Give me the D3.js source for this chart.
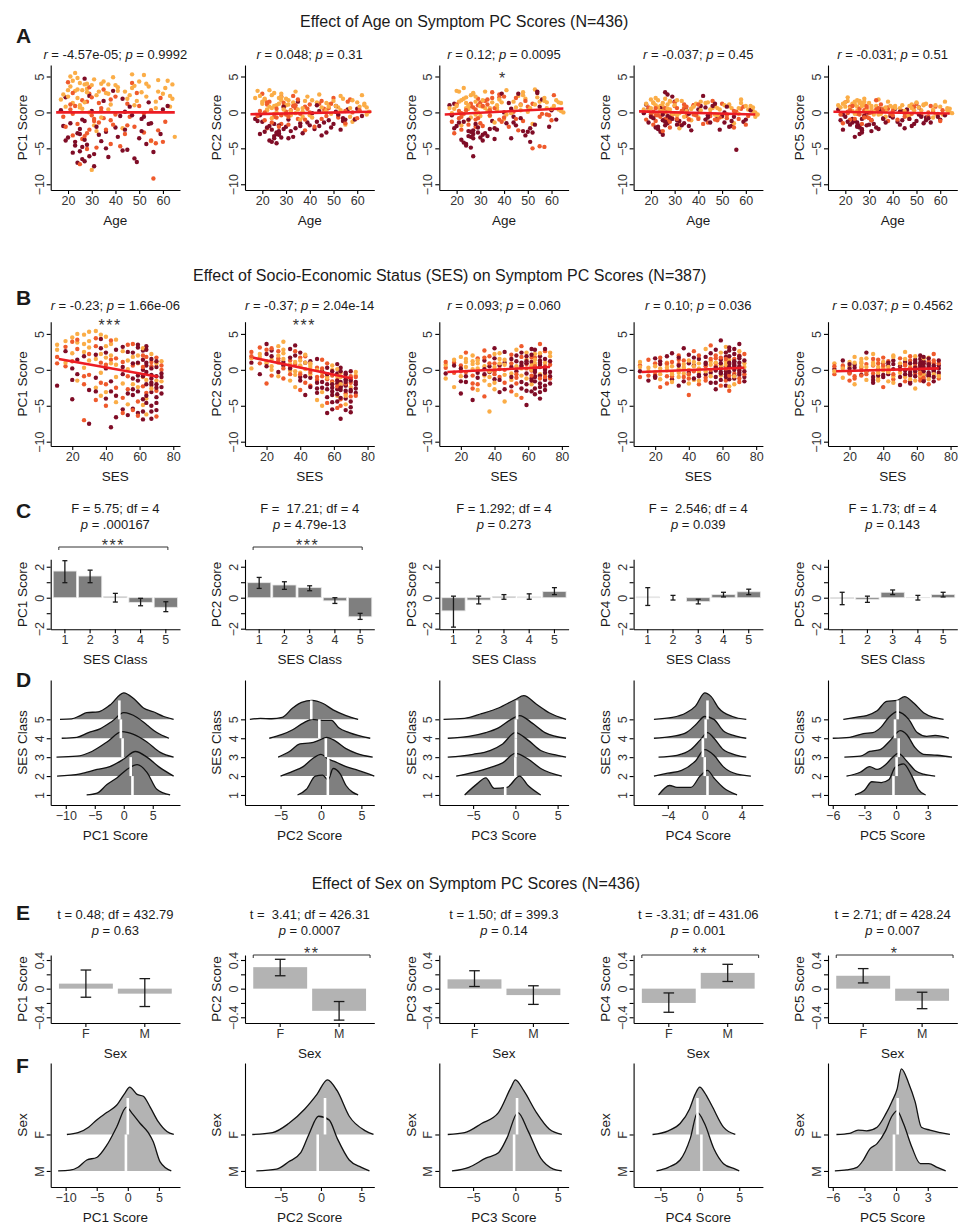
<!DOCTYPE html>
<html>
<head>
<meta charset="utf-8">
<script src="https://cdn.jsdelivr.net/npm/d3@7"></script>
<style>
  body { margin: 0; background: #fff; }
</style>
</head>
<body>
<script>
// ! Data
const pcNames = ["PC1", "PC2", "PC3", "PC4", "PC5"];

// Row A: [age, colour group, PC1, PC2, PC3, PC4, PC5]
const ageRows = [
  [19,0,2.1,-0.4,1.2,0.5,-0.3],[22,1,-3.2,1.1,-0.6,-1.2,0.8],[24,2,4.8,0.6,2.1,0.9,1.1],[26,0,-6.5,-2.8,-3.4,-1.8,-2.1],
  [27,0,-1.2,-3.1,-2.5,0.2,-0.9],[28,1,1.5,2.2,0.4,-0.6,0.3],[21,2,3.6,1.8,1.5,1.3,1.6],[23,0,-4.1,-1.9,-4.2,-2.3,-1.4],
  [25,2,0.7,-0.2,-1.1,0.8,0.2],[29,1,-2.4,0.9,1.9,-0.1,-0.6],[31,0,-5.8,-3.6,-3.1,-1.1,-2.6],[33,2,2.9,1.4,0.2,1.6,0.9],
  [35,1,-0.8,-0.9,2.8,-0.5,0.4],[18,0,-1.9,-1.2,-0.4,1.1,-1.1],[20,1,4.2,2.6,1.1,-0.3,1.4],[22,2,1.3,0.4,-1.8,2.0,0.6],
  [24,0,-7.0,-2.4,-4.6,-2.7,-3.4],[26,1,-3.7,-0.7,0.9,-0.9,-0.3],[28,2,3.3,1.7,-0.3,0.4,1.0],[30,0,0.2,-2.0,-3.5,1.5,-1.7],
  [32,1,-4.9,0.3,1.6,-1.6,0.1],[34,2,4.0,2.9,0.6,0.7,1.8],[36,0,-2.7,-1.5,-2.2,-0.2,-0.8],[38,1,1.8,0.8,2.5,1.0,0.5],
  [40,2,3.8,-0.4,-0.9,-0.7,0.7],[42,0,-0.5,-2.3,1.3,2.3,-1.3],[44,1,-3.0,1.2,0.1,-1.4,0.2],[46,2,2.4,0.1,2.3,0.6,-0.5],
  [48,0,-6.4,-1.1,-2.6,-0.8,-1.9],[50,1,0.9,2.0,0.8,1.2,1.2],[52,2,5.2,0.7,-1.6,-0.4,0.3],[54,0,-1.6,-0.8,2.7,-1.9,-0.7],
  [56,1,-9.2,1.5,-0.2,0.1,0.9],[58,2,4.5,-1.3,1.4,1.8,-0.2],[60,0,0.4,0.5,0.3,-1.0,-1.0],[62,2,4.4,2.4,1.7,0.9,1.5],
  [64,2,1.9,-0.3,0.2,-0.6,0.0],[17,0,0.3,-0.9,1.0,-0.1,0.4],[19,1,-2.0,0.2,-2.9,0.7,-1.5],[21,2,5.0,1.9,2.9,1.4,2.1],
  [23,0,-4.6,-3.9,-1.3,-2.0,-0.9],[25,2,1.0,0.9,0.5,0.3,0.8],[27,0,-6.8,-2.6,-6.1,-1.5,-2.8],[29,1,2.6,1.3,1.0,-0.8,0.6],
  [24,0,-2.9,-4.1,-4.4,0.6,-1.2],[26,2,3.1,0.0,-0.7,1.9,1.3],[28,1,-5.1,-1.6,-2.0,-1.3,-0.4],[30,2,-8.0,1.0,-0.5,-0.2,0.1],
  [27,0,4.7,-1.8,-3.0,2.5,-2.3],[33,1,-1.4,2.3,1.8,0.2,1.7],[37,2,3.9,-0.6,0.7,-1.1,-0.6],[41,0,-3.4,-0.1,-1.5,0.9,0.5],
  [45,1,1.2,1.6,2.0,-0.5,-0.1],[49,0,-6.9,-2.1,-3.2,-2.4,-1.6],[53,2,2.2,0.3,3.2,1.1,1.0],[57,1,-4.3,1.8,-4.8,-0.9,0.2],
  [61,2,3.4,0.8,0.9,0.4,-0.3],[22,1,-0.2,-2.2,-2.4,-0.4,-1.0],[25,0,-5.4,-3.3,-1.0,-3.1,-2.0],[28,2,2.8,2.1,2.2,1.5,1.9],
  [31,0,-7.5,-1.0,-3.9,-1.7,-1.1],[34,1,0.6,0.6,0.3,0.5,0.3],[39,0,3.0,-1.4,2.6,-0.3,-0.5],[43,2,-2.2,1.4,-0.1,1.3,0.6],
  [47,1,4.1,-0.5,1.1,-1.0,-0.9],[51,0,-0.9,0.9,-2.2,0.0,0.7],[55,2,-4.0,-1.7,1.5,-1.5,-0.8],[59,1,2.0,-0.9,-0.4,0.8,-0.2],
  [20,0,-3.5,-1.3,-1.9,-0.6,-0.6],[23,2,5.5,3.1,3.4,1.7,1.2],[26,0,-1.0,-3.0,-2.7,2.8,-1.8],[29,1,3.5,0.7,-0.8,-0.2,0.9],
  [32,2,-2.6,-0.4,0.6,-2.2,-0.3],[35,0,1.6,1.5,-1.2,0.3,0.4],[38,1,-4.4,-2.5,2.1,1.0,-1.2],[44,0,0.1,0.2,-0.6,-0.7,0.1],
  [48,2,3.7,1.1,2.4,0.6,1.1],[52,1,-2.8,-0.7,-5.0,-0.3,-0.4],[56,0,-5.5,0.4,1.8,-5.2,-1.4],[63,2,0.8,1.2,0.4,0.2,0.6],
  [21,1,1.1,-1.1,0.2,-1.7,0.1],[24,2,3.2,2.4,1.3,0.1,1.5],[27,0,-3.8,-2.9,-3.6,-0.5,-2.5],[30,1,-0.4,0.1,1.4,1.4,-0.1],
  [36,2,2.7,-1.0,-1.4,-0.9,0.5],[40,0,-2.1,-1.8,0.0,0.4,-0.7],[46,1,-0.6,0.5,-2.5,1.6,0.3],[50,2,4.3,1.6,0.1,-0.6,1.4],
  [54,0,1.4,-1.2,2.9,-1.2,-1.1],[58,1,-2.5,0.0,-0.3,0.5,0.8],[18,2,2.5,3.0,-0.1,1.2,0.7],[25,1,-7.2,-0.6,-1.7,-2.6,-0.2],
  [26,2,0.5,1.0,2.4,0.0,1.6],[27,1,-3.3,-2.0,0.7,-1.0,-1.6],[29,0,2.3,0.8,-2.1,2.2,0.0],[31,2,-1.8,1.7,1.7,-0.4,0.9],
  [45,0,-5.2,-3.2,-1.8,-1.4,-2.2],[47,2,5.3,0.3,1.0,0.9,-0.4],[55,1,-3.9,-1.5,-4.7,-2.1,-0.6],[65,2,-3.4,0.1,0.0,-0.3,-0.1],
  [20,2,3.1,1.2,0.9,0.6,0.8],[21,0,-1.5,-2.7,-1.4,-0.8,-1.3],[22,2,4.4,0.3,1.7,1.0,0.4],[23,1,0.9,1.5,-0.2,-0.4,0.9],
  [24,2,2.0,-0.8,0.6,0.2,-0.2],[25,0,-2.3,-1.6,-3.3,-1.1,-1.9],[26,1,1.7,0.5,1.2,0.6,0.5],[27,2,3.9,2.0,2.6,1.1,1.3],
  [28,0,-4.5,-3.5,-1.6,-0.7,-0.5],[29,2,0.0,0.4,0.0,-0.2,0.2],[30,1,2.1,-0.3,-1.5,0.9,-0.8],[31,2,4.6,1.1,0.8,1.7,0.6],
  [32,0,-2.0,-2.6,-2.9,-1.2,-1.6],[33,1,1.3,0.9,1.1,0.1,0.4],[34,2,-0.7,-0.1,-0.5,-0.6,-0.3],[35,1,3.2,1.8,2.0,0.8,1.1],
  [36,0,-5.0,-1.9,-3.7,-1.9,-0.9],[37,2,2.6,0.6,0.4,0.5,0.2],[38,1,-1.1,-1.0,-1.0,-0.3,0.7],[39,2,4.9,2.2,1.4,1.2,0.9],
  [40,1,-0.3,0.0,2.2,-0.9,-0.4],[41,2,3.0,-0.7,-0.3,0.3,0.6],[42,1,-4.7,-2.0,-2.0,-1.6,-1.0],[43,0,1.9,1.0,0.5,0.7,0.1],
  [44,2,2.9,2.5,1.5,1.4,1.0],[45,1,-1.8,-0.9,-0.9,-0.1,-0.6],[46,0,0.8,-1.4,2.6,0.9,0.4],[47,2,3.4,1.3,0.3,-0.3,0.9],
  [48,1,-2.0,0.6,-1.2,-1.1,-0.2],[49,2,1.6,-0.2,1.9,0.4,0.3],[50,0,-3.6,-1.6,-2.7,-0.5,-1.2],[51,2,2.8,0.9,0.6,1.0,0.7],
  [52,1,-0.1,-0.4,1.2,-0.8,-0.5],[53,0,-4.4,-2.4,-1.7,-2.0,-1.5],[54,2,3.6,1.9,2.1,0.6,1.2],[55,1,0.3,0.2,-0.6,0.2,0.0],
  [57,2,1.5,-0.6,1.6,-0.2,-0.7],[59,0,-3.0,-1.0,-2.0,-1.3,-0.6],[60,2,2.6,1.4,0.5,0.9,0.8],[61,1,-1.3,0.3,2.4,-0.5,0.3],
  [62,0,0.9,-0.5,-1.0,0.3,-0.4],[64,2,3.9,0.7,1.3,0.0,0.5],[17,2,1.8,2.0,0.6,0.4,1.0],[18,1,-0.6,-0.5,-1.3,-1.0,-0.3],
  [19,0,-3.9,-3.0,-2.2,-1.4,-2.4],[20,2,2.2,1.5,3.0,1.8,1.4],[21,1,0.4,0.0,-0.8,0.1,-0.1],[22,0,-5.6,-2.1,-3.8,-2.1,-1.7],
  [23,2,3.0,0.8,1.9,0.7,0.2],[24,1,-1.6,-1.4,0.3,-0.6,-0.9],[25,2,4.1,2.7,1.0,1.3,1.7],[26,0,-4.8,-4.3,-4.9,-1.3,-3.0],
  [27,2,1.4,1.2,2.7,0.5,0.9],[28,1,-2.9,-0.4,-1.0,-2.1,-0.7],[29,0,-6.1,-2.3,-2.8,-0.9,-1.8],[30,2,3.8,1.9,0.9,1.0,1.3],
  [31,1,-0.9,-1.7,-1.9,0.6,-1.1],[32,2,2.4,0.2,2.9,-0.1,0.1],[33,0,-3.1,-3.4,-3.3,-1.8,-2.1],[34,1,0.2,1.0,-0.4,1.1,0.6],
  [35,2,4.3,0.4,1.4,0.2,-0.2],[36,1,-2.4,-0.2,0.6,-1.0,0.4],[37,0,-6.2,-2.9,-2.4,-2.5,-1.4],[38,2,1.1,1.6,1.8,0.8,1.5],
  [39,1,-1.7,0.5,-1.3,-0.4,-0.2],[41,2,3.5,1.7,3.1,1.5,0.9],[43,0,-5.3,-1.3,-3.6,-1.0,-1.7],[45,2,1.9,0.7,0.7,0.4,0.2],
  [47,0,-0.4,-2.8,-0.8,1.2,-0.9],[49,1,2.7,1.2,1.6,-0.7,0.8],[51,0,-2.6,0.1,-4.1,-1.4,-0.3],[53,2,4.0,2.3,1.1,0.9,1.1],
  [55,0,-1.5,-1.0,0.8,-0.6,-0.8],[57,2,0.6,0.6,2.0,0.6,0.4],[60,1,-4.1,-0.8,-1.1,-1.7,-1.2],[63,2,2.3,1.0,1.4,0.7,0.3],
  [19,2,0.8,2.3,0.5,0.2,1.2],[22,1,2.7,1.4,-0.1,0.6,0.3],[25,0,-3.0,-3.6,-2.6,-0.3,-1.4],[28,2,4.0,2.6,1.5,1.6,1.5],
  [31,1,-1.2,-0.6,0.9,-0.9,0.0],[34,0,-4.0,-2.2,-2.3,-1.5,-2.3],[37,2,0.4,0.1,1.0,0.5,0.7],[40,1,2.2,1.1,-0.7,1.1,0.2],
  [44,0,-2.4,-1.9,-1.4,-0.4,-1.1],[48,2,1.0,0.8,2.8,-0.4,0.6],[52,0,-0.6,-0.3,-2.8,0.8,-0.6],[58,2,2.9,1.7,0.6,1.3,1.0]
];
// regression line end points [x1, y1, x2, y2]
const ageFits = [[15,0.0,65,0.0],[15,-0.25,66,0.1],[15,-0.3,65,0.55],[15,0.15,64,-0.3],[15,0.1,64,-0.15]];
const ageStats = ["_r_ = -4.57e-05; _p_ = 0.9992", "_r_ = 0.048; _p_ = 0.31", "_r_ = 0.12; _p_ = 0.0095",
  "_r_ = -0.037; _p_ = 0.45", "_r_ = -0.031; _p_ = 0.51"];
const ageStars = ["", "", "*", "", ""];

// Row B: [SES, colour group, PC1, PC2, PC3, PC4, PC5]
const sesRows = [
  [11,0,-2.2,1.0,-0.5,-0.2,0.1],[11,1,1.8,2.5,0.3,0.6,-0.6],[11,2,3.5,0.2,-1.2,1.1,0.9],[16,1,0.5,3.1,1.0,-0.8,0.4],
  [16,2,4.0,1.8,-2.4,0.3,-1.1],[16,0,2.6,-0.6,0.6,-1.5,1.3],[20,0,-4.1,2.2,-1.6,1.6,-0.4],[20,2,4.5,0.9,1.8,-0.3,0.5],
  [20,1,1.2,-1.9,-0.2,0.9,-1.5],[20,0,-1.4,3.6,-3.3,-1.1,0.2],[23,2,5.0,1.4,0.4,0.2,1.8],[23,1,2.9,-0.8,2.4,-2.4,-0.9],
  [23,0,-0.6,2.7,-0.9,1.2,0.7],[23,2,3.8,0.0,1.1,-0.6,-2.0],[27,1,-7.0,1.6,-1.9,-1.9,0.3],[27,2,4.9,3.3,0.8,0.7,1.1],
  [27,0,1.9,-0.3,-4.2,1.9,-0.7],[27,2,0.3,2.0,2.0,-0.1,1.5],[30,0,-7.5,0.6,-0.4,-1.3,-0.2],[30,2,5.3,2.3,-2.8,0.5,-1.4],
  [30,1,2.2,-1.2,1.6,-0.9,0.8],[30,0,-2.8,1.1,-1.1,2.3,2.4],[30,2,3.1,3.9,0.2,-0.4,-0.3],[34,1,4.4,0.4,-3.7,1.4,0.6],
  [34,0,-1.1,2.9,1.3,-2.2,-1.8],[34,2,5.4,-1.5,-0.8,0.1,1.0],[34,1,-4.2,1.3,2.7,0.8,-0.5],[34,2,1.5,-0.1,-1.5,-1.0,2.2],
  [37,0,3.0,2.0,0.5,3.0,0.0],[37,2,-0.4,-2.4,-2.1,-0.5,-1.2],[37,1,1.0,0.8,1.9,1.3,1.4],[37,0,4.3,3.4,-0.3,-1.6,-0.8],
  [37,2,-3.6,-0.7,-5.8,0.4,0.4],[40,1,-5.0,1.7,0.9,-1.2,-2.4],[40,0,2.4,-1.0,-1.3,2.1,0.9],[40,2,4.6,0.5,2.2,0.0,-0.1],
  [40,1,-2.0,-2.8,-0.6,-3.5,1.7],[40,0,0.2,2.4,3.0,0.9,-1.0],[40,2,-3.1,-0.4,-2.7,-0.7,0.3],[43,0,-8.0,1.0,0.6,1.7,-0.6],
  [43,1,1.4,-1.8,-1.0,-0.2,1.2],[43,2,3.6,0.1,1.5,-1.4,-1.6],[43,0,-1.6,-3.5,-3.1,0.6,0.6],[43,1,4.1,1.9,0.1,2.6,-0.2],
  [46,0,-6.6,-1.1,2.5,-0.9,0.1],[46,2,0.7,0.7,-0.7,0.2,2.0],[46,1,-2.5,-2.2,-1.8,-2.0,-1.3],[46,0,2.8,1.2,1.0,1.5,0.8],
  [46,2,-4.5,-0.6,-4.4,-0.3,-0.9],[50,0,-5.5,-2.6,0.4,1.0,0.5],[50,1,1.1,0.3,2.1,-1.1,1.6],[50,2,-1.9,-4.2,-1.4,2.9,-0.4],
  [50,0,3.2,1.5,-2.3,-0.6,-2.1],[50,1,-3.9,-1.4,0.9,0.5,0.2],[53,0,-6.3,-0.2,-0.2,-1.8,1.1],[53,2,0.1,-3.1,2.8,1.2,-1.0],
  [53,1,-2.7,1.4,-1.1,3.4,0.7],[53,0,2.5,-1.7,1.2,-0.4,-0.6],[53,2,-4.8,-5.0,-3.5,0.7,2.5],[56,0,-5.4,-2.0,0.6,-1.0,-0.3],
  [56,1,3.6,0.9,1.8,2.0,1.3],[56,0,-1.2,-3.8,-2.6,-2.7,-1.7],[56,2,1.8,-0.9,0.2,0.9,0.4],[56,0,-3.5,-6.0,-1.7,-0.1,-0.8],
  [56,1,0.6,-1.3,3.3,1.6,1.9],[59,0,-6.0,-2.5,-0.5,4.1,0.0],[59,2,2.0,0.0,1.4,-0.8,-1.5],[59,0,3.1,-4.5,-2.9,1.4,0.9],
  [59,1,-4.4,-1.6,0.8,-2.2,-0.5],[59,0,-0.8,-3.0,-4.9,0.2,1.4],[59,2,0.9,0.6,2.4,2.4,-2.6],[62,0,-6.9,-2.7,1.1,-0.6,0.3],
  [62,0,2.7,-0.5,-1.2,1.8,1.0],[62,1,-2.3,-5.3,-0.1,-1.5,-1.1],[62,0,0.0,-1.9,2.9,0.5,0.6],[62,2,-4.9,-3.6,-2.0,3.2,-0.2],
  [62,0,1.4,0.8,0.3,-0.2,2.0],[64,0,3.3,-2.3,-3.4,0.8,-0.7],[64,1,-3.2,-4.1,1.7,-2.9,0.8],[64,0,-0.3,0.3,-0.9,2.7,-1.4],
  [64,2,-6.2,-1.0,2.2,0.3,0.1],[64,0,1.0,-6.8,-1.6,-1.3,1.2],[67,0,-5.0,-2.1,0.7,1.1,-0.4],[67,1,0.5,-3.3,3.6,-0.5,-2.0],
  [67,0,-2.1,-0.6,-2.4,2.2,0.7],[67,2,2.2,-4.8,-0.6,-2.0,1.7],[67,0,-6.8,-1.4,1.3,0.6,-0.9],[67,0,-0.7,-2.9,-4.0,-0.8,0.4],
  [70,0,-3.8,-1.2,0.0,1.6,-0.1],[70,1,1.7,-3.7,2.6,-1.7,1.3],[70,0,-5.6,-0.2,-1.4,3.6,-1.6],[70,2,-1.5,-2.4,1.0,0.1,0.9],
  [70,0,0.4,-5.9,-2.2,-0.4,-0.3],[70,1,-2.9,-1.8,0.5,2.0,2.2],[73,0,-1.0,-2.6,-0.3,-1.0,0.2],[73,2,1.2,-0.8,1.9,0.9,-0.7],
  [73,0,-2.4,-3.2,-1.9,1.3,0.6],[73,1,0.0,-1.0,0.7,-0.6,-1.2],[67,0,-1.8,-2.2,-0.8,0.4,1.0],[64,2,-4.0,-0.4,0.9,1.4,-0.6],
  [11,2,2.8,1.6,0.7,0.4,-0.2],[16,1,3.2,0.9,-0.4,1.4,0.6],[16,2,1.0,2.2,1.4,-0.2,0.2],[20,2,2.3,1.2,-0.9,0.5,1.1],
  [20,1,3.9,2.8,0.6,-0.7,-0.5],[23,0,1.4,1.9,-1.7,0.8,0.3],[23,2,-1.5,0.5,1.5,-1.3,1.0],[23,1,4.2,3.0,-0.3,1.7,-1.2],
  [27,2,2.5,1.0,1.2,0.3,0.5],[27,1,-2.0,2.6,-0.8,-0.9,-0.8],[27,2,3.6,-0.9,0.1,1.0,0.9],[30,2,1.3,1.5,0.9,-0.6,1.6],
  [30,1,-0.7,0.2,-2.0,1.1,-0.6],[30,2,4.0,2.8,1.3,-1.7,0.4],[34,0,2.1,1.7,-0.6,0.6,-1.0],[34,2,-2.5,0.8,0.5,-0.4,0.7],
  [34,1,3.3,-0.6,1.7,2.0,1.5],[37,2,2.2,1.1,-1.0,0.8,-0.4],[37,1,-1.8,2.6,0.9,-1.0,0.9],[37,2,4.9,-0.2,-0.2,0.2,-1.5],
  [40,2,1.7,1.3,0.4,1.3,1.1],[40,0,-4.0,-1.5,1.6,-0.4,-0.7],[40,2,3.3,0.6,-1.8,-1.9,0.5],[43,2,0.9,2.1,0.9,0.5,-0.3],
  [43,0,-3.0,-0.9,-1.4,-1.2,1.0],[43,2,2.0,1.0,2.3,1.1,0.4],[46,1,1.6,-0.3,0.0,2.0,-0.6],[46,0,-3.6,-2.4,-2.7,-0.7,1.3],
  [46,2,4.2,0.9,1.4,0.9,-1.8],[50,2,2.6,0.0,-0.5,-0.2,0.9],[50,0,-0.6,-3.2,1.5,1.8,-1.0],[50,1,-6.0,-1.0,-3.0,-1.5,0.0],
  [53,2,1.3,-0.4,0.5,-0.9,1.5],[53,0,-3.3,-2.5,2.0,2.3,-0.1],[53,1,3.5,0.2,-1.9,0.0,0.6],[56,2,-2.0,-1.1,-0.8,1.0,-1.3],
  [56,0,0.9,-2.7,1.0,-1.8,0.9],[56,1,-5.6,-4.6,-3.9,0.5,0.2],[56,0,2.4,0.3,2.4,2.8,-0.6],[59,2,-2.4,-1.9,-1.2,0.6,1.9],
  [59,0,1.0,-3.5,1.9,-1.4,-0.9],[59,1,-6.4,-0.8,0.2,1.7,0.5],[59,0,3.5,-2.0,-2.0,-0.5,-0.2],[59,0,-3.0,-5.5,1.2,0.9,1.1],
  [62,2,-1.0,-0.9,0.0,1.2,-0.8],[62,0,-4.1,-4.4,-1.5,-2.2,0.7],[62,1,2.0,-1.4,1.7,0.2,-1.5],[62,0,-0.9,-3.4,-3.0,2.4,1.5],
  [62,0,-5.8,-1.5,2.1,-1.0,0.0],[62,2,3.0,0.1,0.6,0.7,-0.4],[64,0,-2.0,-2.8,-1.0,1.9,0.9],[64,1,1.8,-5.0,0.5,-0.8,-1.1],
  [64,0,-4.6,-1.7,2.8,0.4,0.4],[64,0,0.6,-3.9,-2.6,3.1,-0.2],[64,2,-1.4,-2.0,1.4,-2.3,1.6],[64,0,2.8,-0.2,-0.3,1.0,-1.6],
  [67,0,-3.1,-4.0,1.9,0.0,0.2],[67,1,1.1,-1.9,-1.2,1.5,1.2],[67,0,-5.8,-5.6,-1.9,-1.2,-0.8],[67,0,0.2,-0.4,0.4,2.9,0.8],
  [67,2,-2.6,-3.6,2.3,-0.9,-1.3],[67,0,1.5,-1.3,-3.1,0.8,1.6],[70,0,-4.6,-3.0,1.5,-0.7,0.4],[70,2,0.9,-1.3,-0.7,2.6,-0.6],
  [70,0,-2.0,-4.4,2.9,1.0,0.0],[70,1,-6.5,-0.9,-1.0,-1.2,1.0],[70,0,1.2,-2.8,0.3,0.5,-1.0],[70,0,-0.9,-5.2,-2.8,1.9,0.6],
  [73,0,-3.3,-1.7,1.2,-0.2,-0.4],[73,1,0.6,-3.6,-1.2,2.2,0.9],[73,2,-1.6,-0.3,2.4,0.4,-0.9],[73,0,-0.5,-2.0,-0.9,-1.6,1.3],
  [11,1,0.9,1.9,1.1,-1.0,0.5],[20,0,0.2,0.5,0.2,-0.9,0.8],[27,1,-0.9,1.3,-2.6,0.9,-0.1],[34,0,-3.0,0.2,0.1,1.7,-1.4],
  [40,1,0.7,-0.6,-0.2,-0.6,0.6],[46,2,-1.0,0.4,0.7,-1.5,1.8],[53,1,-0.9,-0.9,-0.6,1.5,-1.6],[59,0,-1.5,-0.2,0.9,-0.3,0.3],
  [62,1,0.4,-2.3,-0.8,1.5,-0.5],[64,0,-3.6,-2.5,0.0,-0.3,1.8],[67,0,-1.2,-1.7,1.0,1.2,-0.6],[70,0,-2.5,-1.5,-0.4,-0.1,0.1],
  [56,0,-2.7,-0.6,0.4,0.3,-1.9],[50,0,0.4,-1.8,-1.0,0.8,0.1]
];
const sesFits = [[12,1.5,71,-0.95],[12,1.7,71,-1.2],[12,-0.3,73,0.4],[12,-0.3,73,0.3],[12,-0.2,73,0.2]];
const sesStats = ["_r_ = -0.23; _p_ = 1.66e-06", "_r_ = -0.37; _p_ = 2.04e-14", "_r_ = 0.093; _p_ = 0.060",
  "_r_ = 0.10; _p_ = 0.036", "_r_ = 0.037; _p_ = 0.4562"];
const sesStars = ["***", "***", "", "", ""];

// Row C: mean score per SES class with error bars
const sesClasses = ["1", "2", "3", "4", "5"];
const classMean = [[1.72,1.4,0.08,-0.3,-0.62],[0.97,0.82,0.65,-0.2,-1.23],[-0.85,-0.15,0.08,0.05,0.4],
  [0.05,0.0,-0.25,0.2,0.38],[-0.05,-0.1,0.35,0.02,0.2]];
const classLo = [[0.97,0.97,-0.28,-0.52,-0.9],[0.6,0.54,0.45,-0.37,-1.4],[-1.9,-0.4,-0.1,-0.1,0.2],
  [-0.5,-0.15,-0.4,0.05,0.2],[-0.45,-0.3,0.2,-0.15,0.05]];
const classHi = [[2.39,1.78,0.28,-0.04,-0.26],[1.31,1.03,0.77,0.0,-1.01],[0.1,0.1,0.2,0.25,0.65],
  [0.65,0.15,-0.1,0.35,0.55],[0.35,0.1,0.5,0.15,0.35]];
const anovaStats = [["F = 5.75; df = 4", "_p_ = .000167"], ["F =  17.21; df = 4", "_p_ = 4.79e-13"],
  ["F = 1.292; df = 4", "_p_ = 0.273"], ["F =  2.546; df = 4", "_p_ = 0.039"], ["F = 1.73; df = 4", "_p_ = 0.143"]];
const anovaSig = ["***", "***", "", "", ""];

// Row D: density ridges per SES class (class 1..5), [score, height in class steps]
const ridgeSes = [
  [
    [[-6.4,0],[-4.6,0.1],[-2.9,0.55],[-1.2,0.9],[0.8,1.4],[2.3,1.6],[4.0,1.2],[5.7,0.3],[8.0,0]],
    [[-11.5,0],[-7.5,0.12],[-4.6,0.35],[-2.4,0.5],[0,0.9],[2.0,1.3],[4.0,1.0],[6.0,0.5],[8.6,0]],
    [[-11.6,0],[-8.1,0.05],[-5.5,0.3],[-2.9,0.8],[-0.3,1.35],[1.7,1.2],[4.0,0.8],[6.3,0.25],[8.6,0]],
    [[-10.7,0],[-8.1,0.05],[-6.1,0.3],[-4.1,0.5],[-2.0,0.9],[0,1.35],[2.3,1.1],[4.0,0.7],[5.7,0.3],[7.8,0]],
    [[-11,0],[-9,0.02],[-7.5,0.2],[-6.4,0.35],[-4.4,0.4],[-2.4,0.75],[0,1.4],[1.7,1.1],[3.4,0.6],[5.1,0.4],[6.9,0.15],[8.6,0]]
  ],
  [
    [[-2.9,0],[-1.8,0.3],[-0.7,1.0],[0.2,1.05],[0.9,0.8],[1.5,1.4],[2.4,1.1],[3.1,0.5],[3.9,0.15],[4.6,0]],
    [[-5.0,0],[-3.5,0.25],[-2.2,0.5],[-1.1,0.9],[0,1.15],[0.9,0.9],[1.8,0.75],[3.1,0.5],[4.6,0.3],[6.6,0]],
    [[-5.3,0],[-3.9,0.3],[-2.6,0.7],[-1.3,0.75],[-0.2,0.9],[0.7,1.05],[1.8,0.85],[3.1,0.45],[4.4,0.2],[6.4,0]],
    [[-6.4,0],[-4.8,0.2],[-3.5,0.45],[-2.2,0.8],[-1.1,1.0],[0.2,0.95],[1.3,0.95],[2.2,0.55],[3.5,0.3],[6.1,0]],
    [[-8.8,0],[-7.5,0.05],[-6.1,0.03],[-4.8,0.1],[-3.5,0.6],[-2.4,0.9],[-1.1,1.0],[0.2,0.85],[1.5,0.5],[3.1,0.2],[4.6,0]]
  ],
  [
    [[-6,0],[-4.5,0.6],[-3.5,0.9],[-2.5,0.35],[-1,0.4],[0.5,1.0],[1.5,0.5],[3,0]],
    [[-7,0],[-5,0.2],[-3,0.45],[-1.5,0.7],[0,1.2],[1.5,0.9],[3,0.4],[5.5,0]],
    [[-8,0],[-5,0.15],[-3,0.35],[-1.5,0.7],[0,1.3],[1.5,0.9],[3,0.35],[5,0.1],[6,0]],
    [[-8,0],[-5.5,0.1],[-3.5,0.3],[-2,0.55],[-0.5,1.0],[0.5,1.2],[2,0.8],[3.5,0.3],[6,0]],
    [[-8.5,0],[-6,0.05],[-4,0.3],[-2,0.6],[0,1.05],[1,1.25],[2.5,0.8],[4,0.35],[6,0]]
  ],
  [
    [[-5,0],[-3.8,0.5],[-3,0.4],[-1.5,0.4],[-0.5,1.0],[0.3,1.3],[1,0.9],[2,0.4],[3.5,0]],
    [[-5.5,0],[-4,0.15],[-2.5,0.3],[-1,0.8],[0,1.4],[1,1.1],[2,0.5],[3.5,0.1],[5,0]],
    [[-5,0],[-3,0.1],[-1.5,0.4],[-0.5,0.9],[0.3,1.3],[1,1.0],[2,0.4],[3.5,0.1],[4.5,0]],
    [[-5.5,0],[-3.5,0.1],[-2,0.3],[-1,0.7],[0,1.15],[1,1.0],[2,0.4],[3.5,0.1],[4.5,0]],
    [[-5.5,0],[-3.5,0.1],[-2,0.35],[-1,0.7],[0,1.4],[0.7,1.2],[1.5,0.6],[3,0.15],[4.5,0]]
  ],
  [
    [[-3.9,0],[-3.0,0.25],[-2.3,0.7],[-1.4,0.65],[-0.7,0.8],[-0.1,1.45],[0.7,1.65],[1.5,1.0],[2.1,0.3],[2.8,0]],
    [[-4.7,0],[-3.4,0.2],[-2.5,0.5],[-1.8,0.35],[-1.0,0.6],[-0.4,0.95],[0.2,1.2],[1.0,0.8],[1.8,0.3],[2.6,0.1],[3.7,0]],
    [[-4.9,0],[-3.4,0.05],[-2.5,0.3],[-1.5,0.4],[-0.6,0.85],[0.4,1.4],[1.0,1.2],[1.8,0.5],[2.6,0.15],[3.9,0.1],[5.3,0]],
    [[-6.0,0],[-4.4,0.05],[-3.1,0.25],[-2.2,0.3],[-1.4,0.6],[-0.7,1.1],[0.1,1.4],[1.2,1.0],[2.0,0.3],[2.9,0.1],[3.7,0.15],[5.0,0]],
    [[-5.0,0],[-3.7,0.12],[-2.8,0.2],[-1.8,0.45],[-0.9,0.95],[0.1,1.0],[0.8,1.2],[1.7,0.85],[2.6,0.35],[3.6,0.1],[4.5,0]]
  ]
];
const ridgeSesMed = [[1.5,1.2,-0.2,-0.5,-0.76],[0.85,0.9,0.6,-0.2,-1.2],[-1.2,0.0,0.05,0.05,0.2],
  [0.3,0.0,-0.2,0.1,0.3],[-0.25,0.05,0.25,-0.1,0.15]];

// Row E: mean score per sex with error bars
const sexes = ["F", "M"];
const sexMean = [[0.07,-0.07],[0.3,-0.31],[0.13,-0.09],[-0.2,0.22],[0.18,-0.17]];
const sexLo = [[-0.12,-0.25],[0.18,-0.44],[0.03,-0.22],[-0.33,0.1],[0.08,-0.28]];
const sexHi = [[0.26,0.14],[0.41,-0.18],[0.25,0.04],[-0.06,0.34],[0.28,-0.05]];
const tStats = [["t = 0.48; df = 432.79", "_p_ = 0.63"], ["t =  3.41; df = 426.31", "_p_ = 0.0007"],
  ["t = 1.50; df = 399.3", "_p_ = 0.14"], ["t = -3.31; df = 431.06", "_p_ = 0.001"], ["t = 2.71; df = 428.24", "_p_ = 0.007"]];
const tSig = ["", "**", "", "**", "*"];

// Row F: density ridges per sex (M bottom, F top)
const sexRidgeCats = ["M", "F"];
const ridgeSex = [
  [
    [[-11.2,0],[-9.3,0.02],[-8.0,0.1],[-6.6,0.3],[-5.0,0.37],[-3.4,0.7],[-1.8,1.2],[-0.2,1.75],[0.6,1.6],[2.0,1.3],[3.3,1.05],[4.1,0.8],[5.2,0.25],[7.0,0]],
    [[-9.8,0],[-8.0,0.05],[-6.3,0.2],[-5.0,0.4],[-3.4,0.6],[-1.8,0.8],[-0.4,1.15],[0.3,1.3],[1.5,1.1],[2.5,1.05],[3.6,0.75],[4.9,0.35],[6.3,0.08],[7.4,0]]
  ],
  [
    [[-8,0],[-5.5,0.05],[-4,0.25],[-2.5,0.5],[-1.5,1.0],[-0.3,1.5],[1,1.4],[2,0.9],[3.5,0.3],[5,0.1],[6,0]],
    [[-8.5,0],[-6,0.05],[-4,0.3],[-2,0.7],[-0.5,1.1],[0.8,1.5],[2,1.2],[3.5,0.5],[5.5,0.1],[6.5,0]]
  ],
  [
    [[-7.5,0],[-5.5,0.1],[-3.5,0.35],[-2,0.5],[-1,0.9],[0.3,1.6],[1.5,1.1],[3,0.35],[4.5,0.05],[5.5,0]],
    [[-8,0],[-6,0.05],[-4,0.3],[-2,0.6],[-0.5,1.3],[0,1.5],[1,1.2],[2.5,0.6],[4,0.15],[5.5,0]]
  ],
  [
    [[-5.5,0],[-4,0.1],[-2.5,0.3],[-1.2,0.9],[-0.3,1.6],[0.6,1.3],[1.8,0.6],[3,0.2],[4.5,0.05],[5,0]],
    [[-6,0],[-4,0.1],[-2.5,0.3],[-1.3,0.7],[-0.6,1.1],[0,1.3],[0.6,1.15],[1.5,0.8],[3,0.2],[4.5,0]]
  ],
  [
    [[-5.8,0],[-4.7,0.03],[-3.7,0.1],[-3.1,0.3],[-2.5,0.6],[-1.8,0.75],[-1.0,1.1],[-0.4,1.5],[0.1,1.65],[0.7,1.3],[1.5,0.65],[2.3,0.2],[3.1,0.2],[3.9,0.1],[4.7,0]],
    [[-5.65,0],[-4.4,0.03],[-3.6,0.12],[-2.8,0.1],[-1.8,0.2],[-1.0,0.55],[-0.4,0.9],[0.1,1.25],[0.5,1.8],[1.2,1.4],[1.8,0.9],[2.4,0.2],[3.2,0.12],[4.2,0.05],[5.1,0]]
  ]
];
const ridgeSexMed = [[-0.3,0.0],[-0.4,0.5],[-0.15,0.2],[0.2,-0.3],[-0.2,0.15]];

// ! Layout
const FONT = '"Liberation Sans", Arial, Helvetica, sans-serif';
const colX = [50.7, 245, 439.3, 633.6, 828];
const plotW = 129.3;
const dotColors = ["#7f0c26", "#ef5a2c", "#fbad47"];

const svg = d3.select("body").append("svg").attr("width", 960).attr("height", 1224);

// text helper: segments between "_" are italic
function label(x, y, str, size, anchor = "middle") {
  const t = svg.append("text").attr("x", x).attr("y", y)
    .attr("font-family", FONT).attr("font-size", size).attr("fill", "#1a1a1a")
    .attr("text-anchor", anchor).style("white-space", "pre");
  str.split("_").forEach((s, k) => {
    if (s) t.append("tspan").attr("font-style", k % 2 ? "italic" : "normal").text(s);
  });
  return t;
}
// significance stars, drawn a bit larger and spaced
function stars(x, yCenter, str) {
  label(x, yCenter + 9, str, 16).attr("letter-spacing", 1.5).attr("fill", "#333");
}

function styleAxis(a) {
  a.attr("font-family", FONT).attr("font-size", 12.5);
  a.select(".domain").attr("stroke", "#000").attr("stroke-width", 1.1);
  a.selectAll(".tick line").attr("stroke", "#000").attr("stroke-width", 1.1);
  a.selectAll(".tick text").attr("fill", "#333");
}
function xAxis(scale, y, vals) {
  const ax = d3.axisBottom(scale).tickSize(4).tickSizeOuter(0).tickPadding(2);
  if (vals) ax.tickValues(vals);
  styleAxis(svg.append("g").attr("transform", `translate(0,${y})`).call(ax));
}
function yAxis(scale, x, vals, labels) {
  const ax = d3.axisLeft(scale).tickSize(4).tickSizeOuter(0).tickValues(vals);
  if (labels) ax.tickFormat((d, i) => labels[i]);
  const a = svg.append("g").attr("transform", `translate(${x},0)`).call(ax);
  styleAxis(a);
  a.selectAll(".tick text").attr("x", 0).attr("y", -7).attr("dy", 0)
    .attr("transform", "rotate(-90)").attr("text-anchor", "middle");
}
function axisTitles(x0, top, bottom, xt, yt) {
  label(x0 + plotW / 2, bottom + 35, xt, 13.5);
  label(0, 0, yt, 13.5).attr("transform", `translate(${x0 - 23.7},${(top + bottom) / 2}) rotate(-90)`);
}

// ! Scatter rows (A, B)
function scatterRow(rows, fits, stats, starTxt, starAt, xDom, xTicks, yDom, top, bottom, subY, xTitle) {
  pcNames.forEach((pc, i) => {
    const x0 = colX[i];
    const xs = d3.scaleLinear().domain(xDom).range([x0, x0 + plotW]);
    const ys = d3.scaleLinear().domain(yDom).range([bottom, top]);
    svg.append("g").selectAll("circle").data(rows).join("circle")
      .attr("cx", d => xs(d[0])).attr("cy", d => ys(d[2 + i]))
      .attr("r", 2.2).attr("fill", d => dotColors[d[1]]);
    const f = fits[i];
    svg.append("line")
      .attr("x1", xs(f[0])).attr("y1", ys(f[1])).attr("x2", xs(f[2])).attr("y2", ys(f[3]))
      .attr("stroke", "#ec1c24").attr("stroke-width", 2.6);
    if (starTxt[i]) stars(xs(starAt[0]), ys(starAt[1]), starTxt[i]);
    xAxis(xs, bottom, xTicks);
    yAxis(ys, x0, [-10, -5, 0, 5]);
    axisTitles(x0, top, bottom, xTitle, pc + " Score");
    label(x0 + plotW / 2, subY, stats[i], 13);
  });
}

// ! Bar rows (C, E)
function barRow(o) {
  pcNames.forEach((pc, i) => {
    const x0 = colX[i];
    const xs = d3.scaleBand().domain(o.cats).range([x0, x0 + plotW])
      .paddingInner(o.pi).paddingOuter(o.po);
    const ys = d3.scaleLinear().domain(o.yDom).range([o.bottom, o.top]);
    const bw = xs.bandwidth();
    o.cats.forEach((c, k) => {
      const v = o.mean[i][k];
      svg.append("rect").attr("x", xs(c)).attr("width", bw)
        .attr("y", ys(Math.max(0, v))).attr("height", Math.abs(ys(v) - ys(0)))
        .attr("fill", o.fill).attr("stroke", o.stroke).attr("stroke-width", o.stroke ? 0.8 : 0);
      const cx = xs(c) + bw / 2;
      const eb = svg.append("g").attr("stroke", "#1a1a1a").attr("stroke-width", 1.3);
      eb.append("line").attr("x1", cx).attr("x2", cx).attr("y1", ys(o.lo[i][k])).attr("y2", ys(o.hi[i][k]));
      [o.lo[i][k], o.hi[i][k]].forEach(e =>
        eb.append("line").attr("x1", cx - o.cap).attr("x2", cx + o.cap).attr("y1", ys(e)).attr("y2", ys(e)));
    });
    if (o.sig[i]) {
      const first = o.cats[0], last = o.cats[o.cats.length - 1];
      const bx1 = xs(first) + o.bracket[0], bx2 = xs(last) + bw + o.bracket[1];
      svg.append("path")
        .attr("d", `M${bx1},${o.bracketY + 3}V${o.bracketY}H${bx2}V${o.bracketY + 3}`)
        .attr("fill", "none").attr("stroke", "#333").attr("stroke-width", 1);
      stars((bx1 + bx2) / 2, o.bracketY - 5, o.sig[i]);
    }
    xAxis(xs, o.bottom);
    yAxis(ys, x0, o.yTicks, o.yLabels);
    axisTitles(x0, o.top, o.bottom, o.xTitle, pc + " Score");
    label(x0 + plotW / 2, o.subY[0], o.stats[i][0], 13);
    label(x0 + plotW / 2, o.subY[1], o.stats[i][1], 13);
  });
}

// ! Ridge rows (D, F)
function ridgeRow(o) {
  pcNames.forEach((pc, i) => {
    const x0 = colX[i];
    const xs = d3.scaleLinear().domain(o.xDoms[i]).range([x0, x0 + plotW]);
    const ys = d3.scaleLinear().domain(o.yDom).range([o.bottom, o.top]);
    for (let k = o.cats.length - 1; k >= 0; k--) {
      const base = k + 1;
      const area = d3.area().x(d => xs(d[0])).y0(ys(base)).y1(d => ys(base + d[1])).curve(d3.curveMonotoneX);
      const line = d3.line().x(d => xs(d[0])).y(d => ys(base + d[1])).curve(d3.curveMonotoneX);
      svg.append("path").attr("d", area(o.curves[i][k])).attr("fill", o.fill);
      svg.append("path").attr("d", line(o.curves[i][k])).attr("fill", "none")
        .attr("stroke", "#111").attr("stroke-width", 1.3);
    }
    o.meds[i].forEach((m, k) => {
      svg.append("line").attr("x1", xs(m)).attr("x2", xs(m))
        .attr("y1", ys(k + 1)).attr("y2", ys(k + 2))
        .attr("stroke", "#fff").attr("stroke-width", 2.6);
    });
    xAxis(xs, o.bottom, o.xTicks[i]);
    yAxis(ys, x0, o.cats.map((c, k) => k + 1), o.cats);
    axisTitles(x0, o.top, o.bottom, pc + " Score", o.yTitle);
  });
}

// ! Headings and panel letters
label(300, 27, "Effect of Age on Symptom PC Scores (N=436)", 16, "start");
label(193, 281, "Effect of Socio-Economic Status (SES) on Symptom PC Scores (N=387)", 16, "start");
label(311.7, 889, "Effect of Sex on Symptom PC Scores (N=436)", 16, "start");
[["A", 42.5], ["B", 305], ["C", 518], ["D", 687], ["E", 920], ["F", 1073]].forEach(([t, y]) =>
  label(16, y, t, 21, "start").attr("font-weight", "bold"));

// ! Draw the rows
scatterRow(ageRows, ageFits, ageStats, ageStars, [39.5, 5.2], [12.7, 67.2], [20, 30, 40, 50, 60],
  [-10.8, 6.6], 65, 190, 59, "Age");
scatterRow(sesRows, sesFits, sesStats, sesStars, [42.5, 6.6], [7.2, 84], [20, 40, 60, 80],
  [-10.6, 6.7], 321.7, 446, 309.5, "SES");

barRow({
  cats: sesClasses, mean: classMean, lo: classLo, hi: classHi, stats: anovaStats, sig: anovaSig,
  yDom: [-2.04, 2.48], yTicks: [-2, -1, 0, 1, 2], yLabels: ["\u22122", "", "0", "", "2"],
  top: 559.3, bottom: 629.3, subY: [513, 529], bracketY: 547, bracket: [5.6, -9.6],
  pi: 0.077, po: 0.1, cap: 2.5, fill: "#7f7f7f", stroke: "#e6e6e6", xTitle: "SES Class"
});

ridgeRow({
  curves: ridgeSes, meds: ridgeSesMed, cats: sesClasses,
  xDoms: [[-12.6, 9.7], [-9.4, 6.6], [-9, 6.3], [-7.7, 6.3], [-6.45, 5.8]],
  xTicks: [[-10, -5, 0, 5], [-5, 0, 5], [-5, 0, 5], [-4, 0, 4], [-6, -3, 0, 3]],
  yDom: [0.47, 7.08], top: 680, bottom: 805, fill: "#7f7f7f", yTitle: "SES Class"
});

barRow({
  cats: sexes, mean: sexMean, lo: sexLo, hi: sexHi, stats: tStats, sig: tSig,
  yDom: [-0.48, 0.47], yTicks: [-0.4, -0.2, 0, 0.2, 0.4], yLabels: ["\u22120.4", "", "0", "", "0.4"],
  top: 955, bottom: 1023, subY: [919, 935], bracketY: 955, bracket: [0, 4],
  pi: 0.085, po: 0.14, cap: 5.3, fill: "#b3b3b3", stroke: null, xTitle: "Sex"
});

ridgeRow({
  curves: ridgeSex, meds: ridgeSexMed, cats: sexRidgeCats,
  xDoms: [[-12.4, 8.4], [-9.4, 6.6], [-9, 6.3], [-8.4, 8.0], [-6.45, 5.8]],
  xTicks: [[-10, -5, 0, 5], [-5, 0, 5], [-5, 0, 5], [-5, 0, 5], [-6, -3, 0, 3]],
  yDom: [0.56, 3.96], top: 1063, bottom: 1187, fill: "#b3b3b3", yTitle: "Sex"
});
</script>
</body>
</html>
